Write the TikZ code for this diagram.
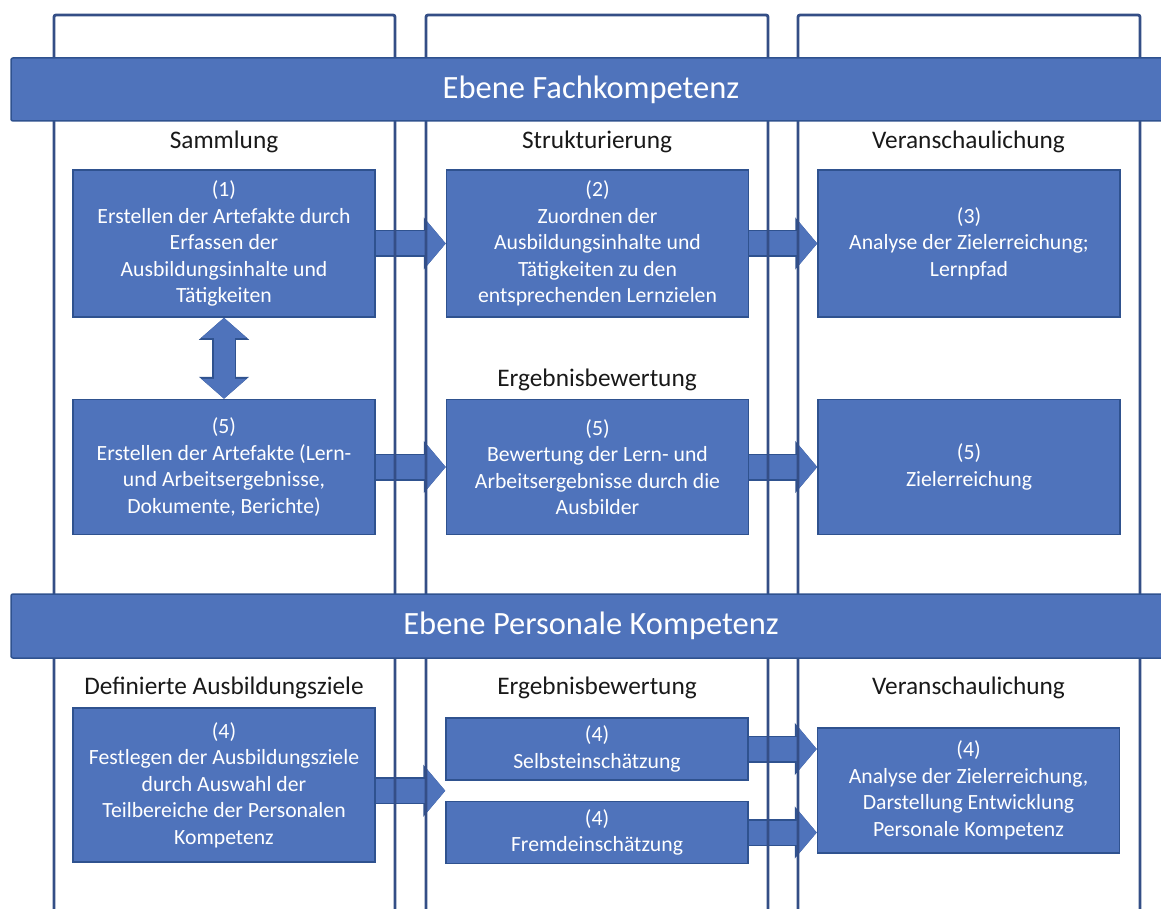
\documentclass[tikz,border=0pt]{standalone}
\usepackage{fontspec}
\setmainfont{Carlito}
\usetikzlibrary{arrows.meta,positioning,calc,backgrounds}
\definecolor{boxfill}{RGB}{79,115,187}
\definecolor{boxline}{RGB}{47,82,143}
\definecolor{frameline}{RGB}{52,78,134}
\tikzstyle{block} = [draw=boxline, line width=1.5pt, fill=boxfill, text=white, align=center, minimum width=302pt, inner sep=2pt, font=\fontsize{21.7}{26.5}\selectfont]
\tikzstyle{band} = [draw=boxline, line width=1.5pt, fill=boxfill, text=white, rounded corners=2pt, minimum width=1160pt, font=\fontsize{32.5}{39}\selectfont]
\tikzstyle{head} = [text=black!90, inner sep=0pt, font=\fontsize{25.3}{30}\selectfont]
\tikzstyle{column} = [draw=frameline, line width=2.8pt, rounded corners=2pt]
\tikzstyle{fat} = [draw=boxfill, line width=24pt, -{Triangle[length=20pt,width=46pt]}, preaction={draw=boxline, line width=27pt, -{Triangle[length=22pt,width=51pt]}}]
\tikzstyle{fatboth} = [draw=boxfill, line width=21pt, {Triangle[length=20pt,width=44pt]}-{Triangle[length=20pt,width=44pt]}, preaction={draw=boxline, line width=24pt, {Triangle[length=22pt,width=49pt]}-{Triangle[length=22pt,width=49pt]}}]

\begin{document}
\begin{tikzpicture}[x=1pt,y=-1pt,auto,node distance=68pt]
	\useasboundingbox (0,0) rectangle (1161,909);

	% the two levels
	\node [band,minimum height=63pt] (fach) at (591,89.5) {Ebene Fachkompetenz};
	\node [band,minimum height=64pt] (pers) at (591,626) {Ebene Personale Kompetenz};

	% column headings
	\node [head] (h1) at (224,142) {Sammlung};
	\node [head] (h2) at (597,142) {Strukturierung};
	\node [head] (h3) at (968.5,142) {Veranschaulichung};
	\node [head] (h5) at (597,380) {Ergebnisbewertung};
	\node [head] (h7) at (224,688) {Definierte Ausbildungsziele};
	\node [head] (h8) at (597,688) {Ergebnisbewertung};
	\node [head] (h9) at (968.5,688) {Veranschaulichung};

	% put the blocks where we want them
	\node [block,minimum height=147pt] (b1) at (224,243.5) {(1)\\Erstellen der Artefakte durch\\Erfassen der\\Ausbildungsinhalte und\\Tätigkeiten};
	\node [block,minimum height=147pt,right=70pt of b1] (b2) {(2)\\Zuordnen der\\Ausbildungsinhalte und\\Tätigkeiten zu den\\entsprechenden Lernzielen};
	\node [block,minimum height=147pt,right=of b2] (b3) {(3)\\Analyse der Zielerreichung;\\Lernpfad};
	\node [block,minimum height=135pt,below=81pt of b1] (b4) {(5)\\Erstellen der Artefakte (Lern-\\und Arbeitsergebnisse,\\Dokumente, Berichte)};
	\node [block,minimum height=135pt,right=70pt of b4] (b5) {(5)\\Bewertung der Lern- und\\Arbeitsergebnisse durch die\\Ausbilder};
	\node [block,minimum height=135pt,right=of b5] (b6) {(5)\\Zielerreichung};
	\node [block,minimum height=154pt] (b7) at (224,785) {(4)\\Festlegen der Ausbildungsziele\\durch Auswahl der\\Teilbereiche der Personalen\\Kompetenz};
	\node [block,minimum height=62pt] (selbst) at (597,749) {(4)\\Selbsteinschätzung};
	\node [block,minimum height=62pt,below=20pt of selbst] (fremd) {(4)\\Fremdeinschätzung};
	\node [block,minimum height=125pt] (b9) at (968.5,790.5) {(4)\\Analyse der Zielerreichung,\\Darstellung Entwicklung\\Personale Kompetenz};
	\coordinate (gap) at ($(selbst.south west)!0.5!(fremd.north west)$);

	\begin{pgfonlayer}{background}
	% draw the block arrows
	\draw [fat] (b1) -- (b2);
	\draw [fat] (b2) -- (b3);
	\draw [fat] (b4) -- (b5);
	\draw [fat] (b5) -- (b6);
	\draw [fatboth] (b1) -- (b4);
	\draw [fat] (b7.east |- gap) -- (gap);
	\draw [fat] (selbst.east) -- (selbst.east -| b9.west);
	\draw [fat] (fremd.east) -- (fremd.east -| b9.west);

	% column frames, open at the bottom
	\draw [column] (54,915) |- (395,15) -- (395,915);
	\draw [column] (426,915) |- (768,15) -- (768,915);
	\draw [column] (798,915) |- (1140,15) -- (1140,915);
	\end{pgfonlayer}
\end{tikzpicture}
\end{document}
